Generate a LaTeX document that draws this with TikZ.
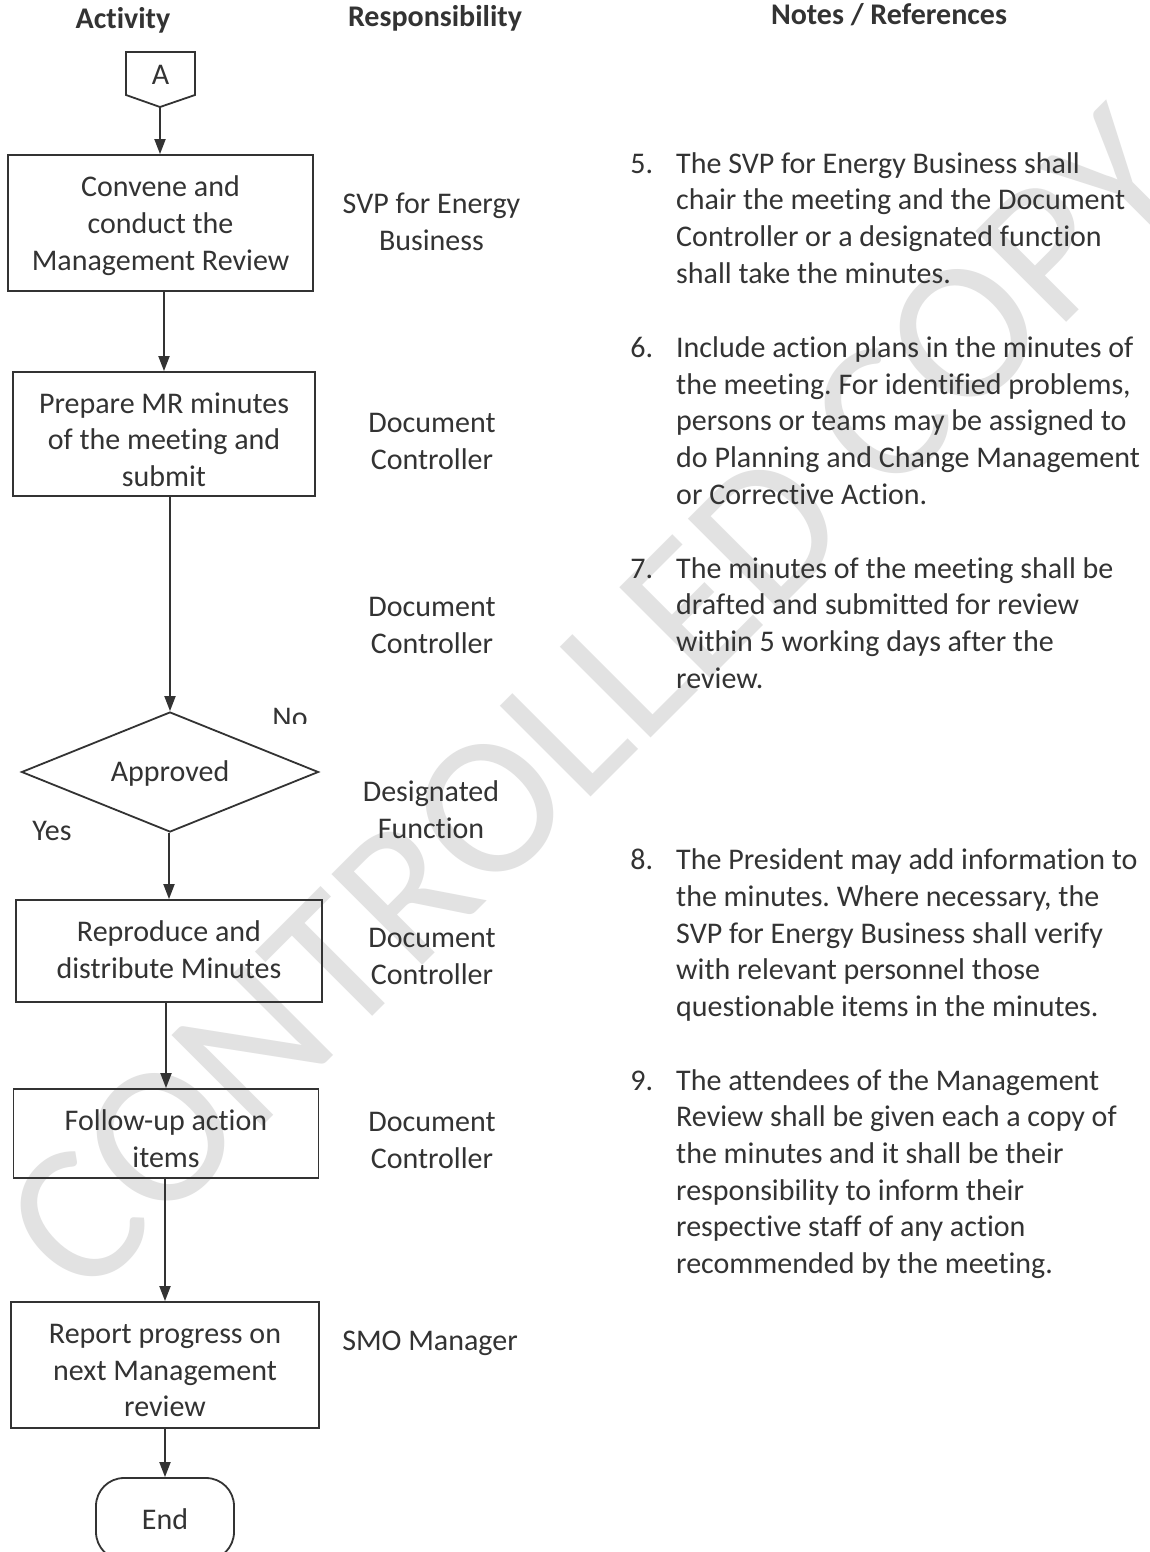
\documentclass[tikz,border=0pt]{standalone}
\usepackage{fontspec}
\setmainfont{Carlito}[Ligatures=NoCommon]
\usetikzlibrary{arrows.meta,shapes.geometric}
\definecolor{ink}{HTML}{333333}
\definecolor{wm}{HTML}{E2E2E2}
\frenchspacing
\begin{document}
\begin{tikzpicture}[x=1pt,y=-1pt,
  every node/.style={text=ink, font=\fontsize{30pt}{36.7pt}\selectfont},
  box/.style={draw=ink, line width=1.8pt, inner sep=0pt},
  btext/.style={align=center, inner sep=0pt},
  arr/.style={draw=ink, line width=1.8pt, -{Triangle[length=15pt,width=11pt]}},
  resp/.style={align=center, inner sep=0pt},
  note/.style={align=left, inner sep=0pt, anchor=west},
  head/.style={font=\bfseries\fontsize{30pt}{36pt}\selectfont}]
\useasboundingbox (0,0) rectangle (1150,1552);
\clip (0,0) rectangle (1150,1552);
\fill[white] (0,0) rectangle (1150,1552);

% watermark
\node[text=wm, font=\fontsize{200pt}{200pt}\selectfont, rotate=45, inner sep=0pt] (wmark) at (596,702) {CONTROLLED COPY};

% headers
\node[head] (h1) at (123,20) {Activity};
\node[head] (h2) at (435,18) {Responsibility};
\node[head] (h3) at (889,15) {Notes / References};

% off-page connector A
\coordinate (Atip) at (160,107);
\draw[draw=ink, line width=1.8pt] (126,52) -- (195,52) -- (195,95) -- (Atip) -- (126,95) -- cycle;
\node (A) at (160.5,75) {A};

% activity boxes
\node[box, minimum width=305pt, minimum height=136pt] (b1) at (160.5,223) {};
\node[btext] (t1) at (160.5,225.5) {Convene and\\conduct the\\Management Review};
\node[box, minimum width=302pt, minimum height=124pt] (b2) at (164,434) {};
\node[btext] (t2) at (164,439.5) {Prepare MR minutes\\of the meeting and\\submit};
\node[draw=ink, line width=1.8pt, diamond, aspect=2.475, minimum width=297pt, minimum height=120pt, inner sep=0pt] (d) at (170,772) {};
\node[btext] (td) at (170,773.5) {Approved};
\node[box, minimum width=306pt, minimum height=102pt] (b3) at (169,951) {};
\node[btext] (t3) at (169,950) {Reproduce and\\distribute Minutes};
\node[box, minimum width=305pt, minimum height=89pt] (b4) at (166,1133.5) {};
\node[btext] (t4) at (166,1138.5) {Follow-up action\\items};
\node[box, minimum width=308pt, minimum height=126pt] (b5) at (165,1365) {};
\node[btext] (t5) at (165,1370.5) {Report progress on\\next Management\\review};
\node[box, rounded corners=28pt, minimum width=138pt, minimum height=82pt] (e) at (165,1519) {};
\node[btext] (te) at (165,1519) {End};

\begin{scope}
\clip (250,690) rectangle (330,723);
\node (no) at (290,718) {No};
\end{scope}
\node (yes) at (52,831) {Yes};

% connectors
\draw[arr] (Atip) -- (Atip |- b1.north);
\draw[arr] (b2.north |- b1.south) -- (b2.north);
\draw[arr] (d.north |- b2.south) -- (d.north);
\draw[arr] (b3.north |- d.south) -- (b3.north);
\draw[arr] (b4.north |- b3.south) -- (b4.north);
\draw[arr] (b5.north |- b4.south) -- (b5.north);
\draw[arr] (e.north |- b5.south) -- (e.north);

% responsibility
\node[resp] (r1) at (431.5,221.5) {SVP for Energy\\Business};
\node[resp] (r2) at (432,441.5) {Document\\Controller};
\node[resp] (r3) at (432,625.5) {Document\\Controller};
\node[resp] (r4) at (431,809.5) {Designated\\Function};
\node[resp] (r5) at (432,956.5) {Document\\Controller};
\node[resp] (r6) at (432,1140.5) {Document\\Controller};
\node[resp] (r7) at (430,1343) {SMO Manager};

% notes
\node[note] (n5) at (676,218) {\llap{5.\hspace{23pt}}The SVP for Energy Business shall\\chair the meeting and the Document\\Controller or a designated function\\shall take the minutes.};
\node[note] (n6) at (676,420.5) {\llap{6.\hspace{23pt}}Include action plans in the minutes of\\the meeting. For identified problems,\\persons or teams may be assigned to\\do Planning and Change Management\\or Corrective Action.};
\node[note] (n7) at (676,623) {\llap{7.\hspace{23pt}}The minutes of the meeting shall be\\drafted and submitted for review\\within 5 working days after the\\review.};
\node[note] (n8) at (676,935) {\llap{8.\hspace{23pt}}The President may add information to\\the minutes. Where necessary, the\\SVP for Energy Business shall verify\\with relevant personnel those\\questionable items in the minutes.};
\node[note] (n9) at (676,1174) {\llap{9.\hspace{23pt}}The attendees of the Management\\Review shall be given each a copy of\\the minutes and it shall be their\\responsibility to inform their\\respective staff of any action\\recommended by the meeting.};
\end{tikzpicture}
\end{document}
